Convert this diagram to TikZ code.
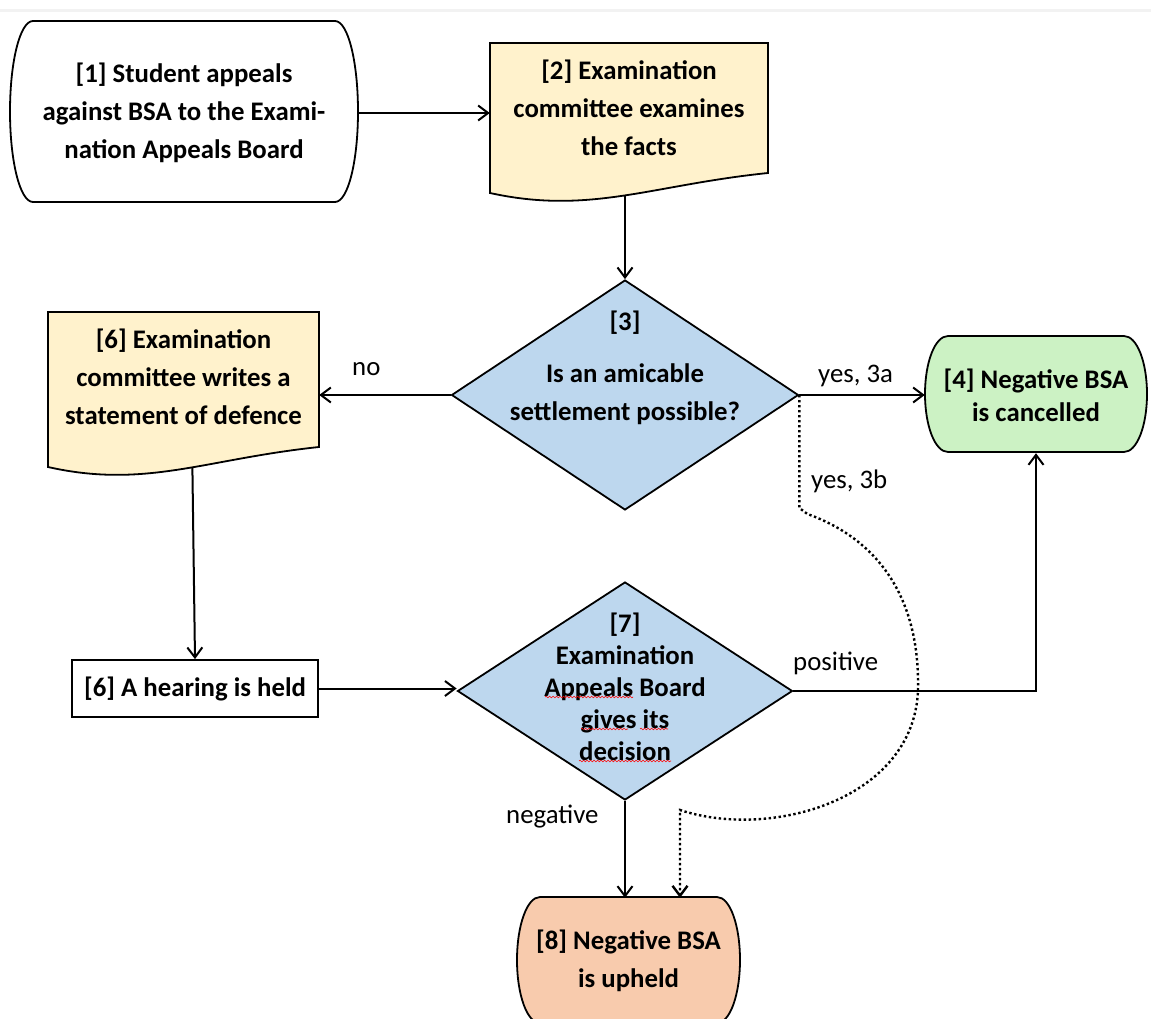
\documentclass[tikz,border=0pt]{standalone}
\usepackage{fontspec}
\setmainfont{Carlito}
\usetikzlibrary{shapes.geometric,arrows.meta,decorations.pathmorphing}

\begin{document}
\begin{tikzpicture}[x=1pt,y=-1pt,
    shapeline/.style={draw=black, line width=1.8pt},
    flow/.style={line width=2pt, -{Straight Barb[length=10pt,width=15pt]}},
    maybeflow/.style={flow, line width=2.4pt, dash pattern=on 2.4pt off 2.6pt},
    boxtext/.style={inner sep=0, align=center, font={\flowfont{38pt}\bfseries}},
    decision/.style={diamond, shapeline, fill=decideblue, inner sep=0},
    edgelabel/.style={inner sep=0, anchor=base west, font={\flowfont{30pt}}},
    squiggle/.style={red, line width=0.6pt, decorate, decoration={snake, amplitude=0.8pt, segment length=3.5pt}}]
\def\flowfont#1{\fontsize{26.8pt}{#1}\selectfont}
% terminator: fill, x0, y0, x1, y1
\def\termshape#1#2#3#4#5{%
  \filldraw[shapeline, fill=#1] ({#2+23},#3) -- ({#4-23},#3)
    .. controls ({#4-10},#3) and (#4,{#3+0.225*(#5-#3)}) .. (#4,{0.5*(#3+#5)})
    .. controls (#4,{#5-0.225*(#5-#3)}) and ({#4-10},#5) .. ({#4-23},#5)
    -- ({#2+23},#5)
    .. controls ({#2+10},#5) and (#2,{#5-0.225*(#5-#3)}) .. (#2,{0.5*(#3+#5)})
    .. controls (#2,{#3+0.225*(#5-#3)}) and ({#2+10},#3) .. ({#2+23},#3) -- cycle;}
% document: fill, x0, y0, x1, left bottom, pos, name of point on the wave
\def\docshape#1#2#3#4#5#6#7{%
  \filldraw[shapeline, fill=#1] (#2,#3) -- (#4,#3) -- (#4,{#5-20})
    .. controls ({#2+0.58*(#4-#2)},{#5-8}) and ({#2+0.36*(#4-#2)},{#5+22}) .. (#2,#5)
    coordinate[pos=#6] (#7) -- cycle;}
\definecolor{docyellow}{RGB}{255,242,204}
\definecolor{decideblue}{RGB}{189,215,238}
\definecolor{cancelgreen}{RGB}{204,242,196}
\definecolor{upheldorange}{RGB}{248,203,173}

\clip (0,0) rectangle (1151,1019);
\draw[gray!10, line width=3pt] (0,11) -- (1151,11);

% outlines behind the texts
\termshape{white}{10}{21}{358}{202}
\docshape{docyellow}{490}{43}{768}{193}{0.48}{facts-b}
\docshape{docyellow}{48}{312}{319}{467}{0.44}{defence-b}
\termshape{cancelgreen}{925}{336}{1147}{452}
\termshape{upheldorange}{517}{897}{740}{1023}

\node[boxtext, minimum width=348pt, minimum height=181pt] (appeal) at (184,113)
  {[1] Student appeals\\against BSA to the Exami-\\nation Appeals Board};
\node[boxtext, minimum width=278pt] (facts) at (629,108)
  {[2] Examination\\committee examines\\the facts};
\node[boxtext, minimum width=271pt] (defence) at (183.5,377)
  {[6] Examination\\committee writes a\\statement of defence};
\node[decision, minimum width=347pt, minimum height=230pt] (amicable) at (625,395) {};
\node[boxtext] (amicable-t) at (625,368)
  {[3]\\[14pt]Is an amicable\\settlement possible?};
\node[boxtext, font={\flowfont{33pt}\bfseries}, minimum width=222pt, minimum height=116pt] (cancelled) at (1036,395)
  {[4] Negative BSA\\is cancelled};
\node[boxtext, shapeline, fill=white, minimum width=246pt, minimum height=57pt] (hearing) at (195,688.5)
  {[6] A hearing is held};
\node[decision, minimum width=335pt, minimum height=218pt] (verdict) at (625,691) {};
\node[boxtext, font={\flowfont{32pt}\bfseries}] (verdict-t) at (625,687)
  {[7]\\Examination\\Appeals Board\\gives its\\decision};
\node[boxtext, minimum width=223pt, minimum height=126pt] (upheld) at (628.5,961)
  {[8] Negative BSA\\is upheld};

% spelling marks
\draw[squiggle] (545,697) -- (633,697);
\draw[squiggle] (581,729) -- (628,729);
\draw[squiggle] (640,729) -- (668,729);
\draw[squiggle] (579,761) -- (671,761);

% connectors
\coordinate (bend) at (680,810);
\draw[flow] (appeal.east) -- (appeal.east -| facts.west);
\draw[flow] (amicable.north |- facts-b) -- (amicable.north);
\draw[flow] (amicable.west) -- (amicable.west -| defence.east);
\draw[flow] (amicable.east) -- (amicable.east -| cancelled.west);
\draw[maybeflow] (amicable.east) -- ++(0,113) -- ++(8,6)
  .. controls (880,540) and (920,600) .. (918,690)
  .. controls (914,800) and (770,840) .. (bend) -- (bend |- upheld.north);
\draw[flow] (defence-b) -- (hearing.north);
\draw[flow] (hearing.east) -- (hearing.east -| verdict.west);
\draw[flow] (verdict.east) -- (verdict.east -| cancelled.south) -- (cancelled.south);
\draw[flow] (verdict.south) -- (verdict.south |- upheld.north);

\node[edgelabel] (lbl-no) at (352,375) {no};
\node[edgelabel] (lbl-3a) at (818,382) {yes, 3a};
\node[edgelabel] (lbl-3b) at (811,488) {yes, 3b};
\node[edgelabel] (lbl-pos) at (793,670) {positive};
\node[edgelabel] (lbl-neg) at (506,823) {negative};
\end{tikzpicture}
\end{document}
